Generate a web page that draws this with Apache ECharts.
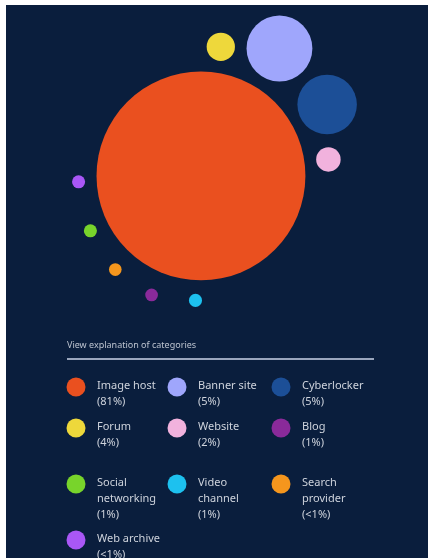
<!DOCTYPE html>
<html>
<head>
<meta charset="utf-8">
<title>Categories</title>
<script src="https://cdn.jsdelivr.net/npm/echarts@6/dist/echarts.min.js"></script>
<style>
    * { margin: 0; padding: 0; }
    body { background: #fff; width: 428px; height: 558px; overflow: hidden; }
    #main { position: absolute; left: 6px; top: 5px; width: 422px; height: 553px; }
</style>
</head>
<body>
<div id="main"></div>
<script>
    var categories = ['Image host', 'Banner site', 'Cyberlocker', 'Forum', 'Website', 'Blog',
        'Social networking', 'Video channel', 'Search provider', 'Web archive'];
    var shares = ['81%', '5%', '5%', '4%', '2%', '1%', '1%', '1%', '<1%', '<1%'];
    // bubble centres and diameters, in axis units (x 0-100, y 0-75)
    var bubbleX = [46.2, 64.8, 76.1, 50.9, 76.4, 34.5, 20.0, 44.9, 25.9, 17.2];
    var bubbleY = [34.5, 64.7, 51.4, 65.1, 38.4, 6.3, 21.5, 5.0, 12.3, 33.1];
    var bubbleD = [49.5, 15.6, 14.1, 6.7, 5.8, 3.0, 3.1, 3.1, 3.0, 3.1];

    var colors = ['#ea501f', '#9fa6fc', '#1c4f97', '#eed83b', '#f1b2dd', '#8a2a9a',
        '#78d42b', '#1dc1ef', '#f5961d', '#a957f6'];

    var myChart = echarts.init(document.getElementById('main'));
    var unitPx = myChart.getWidth() / 100;

    var points = [];
    for (var i = 0; i < categories.length; i++) {
        points.push({
            name: categories[i],
            value: [bubbleX[i], bubbleY[i], bubbleD[i]],
            itemStyle: { color: colors[i], opacity: 1 }
        });
    }

    // legend drawn as a 3 column grid under the bubbles
    var colX = [70, 171, 275];
    var rowY = [381, 422, 478, 534];
    var textColor = '#ced3dc';
    var graphics = [{
        type: 'text',
        left: 61,
        top: 336,
        style: {
            text: 'View explanation of categories',
            fill: '#bcc3cf',
            font: '9px "Noto Sans"'
        }
    }, {
        type: 'line',
        shape: { x1: 61, y1: 354, x2: 368, y2: 354 },
        style: { stroke: '#9aa6bd', lineWidth: 2 }
    }];
    for (var k = 0; k < categories.length; k++) {
        var cx = colX[k % 3];
        var cy = rowY[Math.floor(k / 3)];
        graphics.push({
            type: 'circle',
            shape: { cx: cx, cy: cy + 1, r: 9.5 },
            style: { fill: colors[k] }
        });
        graphics.push({
            type: 'text',
            x: cx + 21,
            y: cy - 8,
            style: {
                text: categories[k] + '\n(' + shares[k] + ')',
                width: 68,
                overflow: 'break',
                fill: textColor,
                font: '11px "Noto Sans"',
                lineHeight: 16,
                verticalAlign: 'top'
            }
        });
    }

    var option = {
        backgroundColor: '#0a1e3d',
        animation: false,
        grid: { left: 0, right: 0, top: 0, height: 75 * unitPx },
        xAxis: { type: 'value', min: 0, max: 100, show: false },
        yAxis: { type: 'value', min: 0, max: 75, show: false },
        series: [{
            type: 'scatter',
            symbol: 'circle',
            data: points,
            symbolSize: function (val) {
                return val[2] * unitPx;
            },
            itemStyle: { opacity: 1 },
            silent: true
        }],
        graphic: graphics
    };
    myChart.setOption(option);
</script>
</body>
</html>
